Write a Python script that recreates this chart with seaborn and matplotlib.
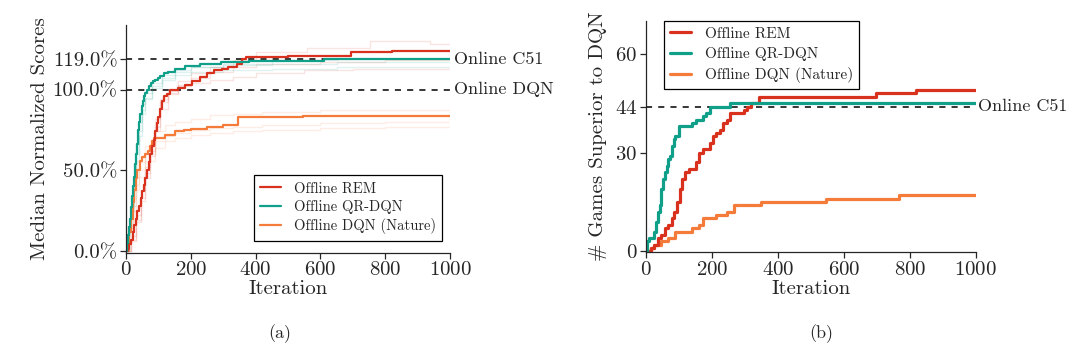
import numpy as np
import pandas as pd
import seaborn as sns
import matplotlib.pyplot as plt

# ---- data ----
# (a) median normalized score (%) vs iteration, step curves
rem_x = [0, 5, 10, 15, 20, 25, 30, 35, 40, 45, 50, 55, 60, 65, 70, 75, 80, 85, 90, 95, 100, 105, 110, 118, 125,
         136, 160, 183, 205, 227, 250, 271, 295, 315, 342, 359, 370, 500, 695, 822, 1000]
rem_y = [0, 1, 4, 7, 12, 16, 20, 25, 28, 33, 37, 41, 45, 50, 55, 60, 65, 69, 74, 79, 83, 88, 93, 96, 97,
         100, 101, 103, 105, 107.5, 110, 112, 113, 114, 116, 119, 120, 120.5, 123, 124, 124]
qr_x = [0, 3, 6, 9, 12, 15, 18, 21, 24, 28, 31, 34, 38, 41, 44, 48, 52, 56, 60, 64, 70, 78, 84, 90, 98, 106,
        118, 130, 150, 183, 227, 293, 381, 500, 612, 1000]
qr_y = [0, 5, 10, 15, 20, 27, 34, 40, 46, 54, 60, 66, 75, 80, 85, 89.5, 93, 96, 98, 100, 102, 104, 105, 106, 107,
        108.5, 110, 111, 112.7, 114.8, 115.9, 116.9, 117.5, 117.6, 119, 119]
dqn_x = [0, 5, 10, 15, 20, 25, 30, 35, 43, 50, 60, 67, 75, 80, 85, 100, 120, 150, 180, 200, 250, 300, 345, 546, 1000]
dqn_y = [0, 5, 12, 20, 30, 38, 45, 50, 56, 58, 60, 62, 65, 68, 70, 70, 72, 74, 75, 75.5, 77, 78, 83, 83.5, 83.5]

# faint individual runs (a)
rem_runs_x = [
    [0, 15, 30, 45, 60, 75, 90, 105, 130, 160, 200, 260, 330, 400, 558, 753, 938, 1000],
    [0, 15, 30, 45, 60, 75, 90, 105, 130, 160, 200, 260, 330, 400, 550, 700, 1000],
    [0, 15, 30, 45, 60, 75, 90, 105, 130, 160, 200, 260, 330, 400, 600, 800, 1000],
]
rem_runs_y = [
    [0, 7, 19, 33, 48, 62, 77, 92, 99, 105, 110, 114, 118, 123, 126, 130, 128, 128],
    [0, 9, 22, 37, 52, 66, 82, 94, 98, 102, 104, 106, 108, 110, 112, 113, 113],
    [0, 6, 18, 31, 45, 59, 74, 88, 97, 103, 107, 111, 114, 116, 117, 118, 118],
]
qr_runs_x = [
    [0, 8, 16, 24, 32, 40, 50, 60, 80, 110, 150, 200, 300, 450, 650, 1000],
    [0, 8, 16, 24, 32, 40, 50, 60, 80, 110, 150, 200, 300, 450, 650, 1000],
    [0, 8, 16, 24, 32, 40, 50, 60, 80, 110, 150, 200, 300, 450, 650, 1000],
]
qr_runs_y = [
    [0, 13, 28, 44, 60, 74, 87, 95, 102, 106, 109, 111, 112, 113, 114, 114],
    [0, 16, 33, 50, 66, 80, 91, 98, 104, 109, 112, 114, 115, 116, 117, 117],
    [0, 11, 25, 40, 56, 71, 85, 94, 101, 107, 111, 114, 116, 118, 119, 120],
]
dqn_runs_x = [
    [0, 10, 20, 30, 40, 60, 90, 120, 150, 200, 260, 330, 420, 600, 800, 1000],
    [0, 10, 20, 30, 40, 60, 90, 120, 150, 200, 260, 330, 420, 600, 800, 1000],
    [0, 10, 20, 30, 40, 60, 90, 120, 150, 200, 260, 330, 420, 600, 800, 1000],
]
dqn_runs_y = [
    [0, 14, 32, 46, 55, 65, 74, 78, 80, 82, 84, 85, 86, 87, 87, 87],
    [0, 12, 28, 41, 50, 60, 68, 71, 73, 75, 76, 77, 78, 79, 80, 80],
    [0, 10, 25, 38, 46, 56, 64, 68, 70, 72, 73, 74, 75, 76, 77, 77],
]

# (b) number of games superior to online DQN
rem_b_x = [0, 15, 26, 36, 47, 57, 68, 78, 86, 94, 102, 109, 120, 130, 151, 162, 172, 193, 203, 214, 224, 235, 245, 255, 297, 307, 320, 344, 698, 818, 1000]
rem_b_y = [0, 1, 2, 4, 5, 7, 8, 10, 12, 15, 19, 22, 24, 25, 27, 30, 31, 33, 35, 36, 37, 39, 40, 42, 43, 44, 45, 47, 48, 49, 49]
qr_b_x = [0, 5, 10, 26, 31, 36, 42, 47, 52, 57, 63, 68, 73, 78, 84, 89, 99, 141, 151, 172, 182, 193, 245, 255, 1000]
qr_b_y = [0, 3, 4, 6, 9, 12, 14, 19, 22, 24, 26, 28, 29, 32, 34, 35, 38, 39, 40, 41, 42, 44, 44, 45, 45]
dqn_b_x = [0, 15, 26, 47, 68, 89, 130, 141, 161, 172, 203, 214, 245, 266, 349, 547, 766, 1000]
dqn_b_y = [0, 1, 2, 3, 4, 6, 6, 7, 8, 10, 10, 11, 12, 14, 15, 16, 17, 17]

labels = ["Offline REM", "Offline QR-DQN", "Offline DQN (Nature)"]
c_rem, c_qr, c_dqn = "#d8321f", "#10a08a", "#f47b3a"

# ---- style ----
sns.set_style("ticks")
plt.rcParams['font.family'] = ['cmr10', 'DejaVu Serif']
plt.rcParams['axes.formatter.use_mathtext'] = True
plt.rcParams['axes.unicode_minus'] = False

fig = plt.figure(figsize=(10.8, 3.49), dpi=100)
ax1 = fig.add_axes([0.1167, 0.2765, 0.3, 0.652])
ax2 = fig.add_axes([0.598, 0.277, 0.3056, 0.663])


def steps(ax, xs, ys, color, lw, alpha=1.0, label=None):
    df = pd.DataFrame({"x": xs, "y": ys})
    sns.lineplot(data=df, x="x", y="y", ax=ax, color=color, lw=lw, alpha=alpha,
                 drawstyle="steps-post", label=label, legend=False)


# panel (a)
for runs_x, runs_y, c in [(rem_runs_x, rem_runs_y, c_rem), (qr_runs_x, qr_runs_y, c_qr),
                          (dqn_runs_x, dqn_runs_y, c_dqn)]:
    for xs, ys in zip(runs_x, runs_y):
        steps(ax1, xs, ys, c, 1.0, alpha=0.13)
steps(ax1, dqn_x, dqn_y, c_dqn, 1.6, label=labels[2])
steps(ax1, rem_x, rem_y, c_rem, 1.6, label=labels[0])
steps(ax1, qr_x, qr_y, c_qr, 1.6, label=labels[1])

for yv, txt in [(119, "Online C51"), (100, "Online DQN")]:
    ax1.plot([0, 1000], [yv, yv], color="black", ls=(0, (4, 4)), lw=1.1, zorder=1)
    ax1.text(1012, yv, txt, va="center", ha="left", fontsize=13)

ax1.set_xlim(0, 1000)
ax1.set_ylim(-1, 140)
ax1.set_yticks([0, 50, 100, 119])
ax1.set_yticklabels(["0.0%", "50.0%", "100.0%", "119.0%"])
ax1.set_xticks([0, 200, 400, 600, 800, 1000])
ax1.set_xlabel("Iteration", fontsize=15, labelpad=1)
ax1.set_ylabel("Median Normalized Scores", fontsize=15, labelpad=3)

h = {l.get_label(): l for l in ax1.get_lines()}
leg1 = ax1.legend([h[l] for l in labels], labels, loc="lower right",
                  bbox_to_anchor=(0.976, 0.051), borderaxespad=0, fontsize=10.5,
                  fancybox=False, edgecolor="black", framealpha=1, handlelength=1.4,
                  borderpad=0.45, labelspacing=0.3, handletextpad=0.9)
leg1.get_frame().set_linewidth(0.9)

# panel (b)
steps(ax2, dqn_b_x, dqn_b_y, c_dqn, 2.3, label=labels[2])
steps(ax2, rem_b_x, rem_b_y, c_rem, 2.3, label=labels[0])
steps(ax2, qr_b_x, qr_b_y, c_qr, 2.3, label=labels[1])
ax2.plot([0, 1000], [44, 44], color="black", ls=(0, (4, 4)), lw=1.1, zorder=1)
ax2.text(1005, 44, "Online C51", va="center", ha="left", fontsize=13)

ax2.set_xlim(0, 1000)
ax2.set_ylim(-0.3, 70)
ax2.set_yticks([0, 30, 44, 60])
ax2.set_xticks([0, 200, 400, 600, 800, 1000])
ax2.set_xlabel("Iteration", fontsize=15, labelpad=1)
ax2.set_ylabel("# Games Superior to DQN", fontsize=15, labelpad=6)

h2 = {l.get_label(): l for l in ax2.get_lines()}
leg2 = ax2.legend([h2[l] for l in labels], labels, loc="upper left",
                  bbox_to_anchor=(0.054, 1.0), borderaxespad=0, fontsize=11,
                  fancybox=False, edgecolor="black", framealpha=1, handlelength=1.4,
                  borderpad=0.4, labelspacing=0.4, handletextpad=0.9)
leg2.get_frame().set_linewidth(0.9)

for ax in (ax1, ax2):
    sns.despine(ax=ax)
    ax.tick_params(labelsize=15, length=4, width=0.9, pad=2)
    for s in ("left", "bottom"):
        ax.spines[s].set_linewidth(0.9)

fig.text(0.259, 0.045, "(a)", ha="center", va="center", fontsize=13)
fig.text(0.760, 0.045, "(b)", ha="center", va="center", fontsize=13)

fig.savefig("out.png", dpi=100, facecolor="white")
